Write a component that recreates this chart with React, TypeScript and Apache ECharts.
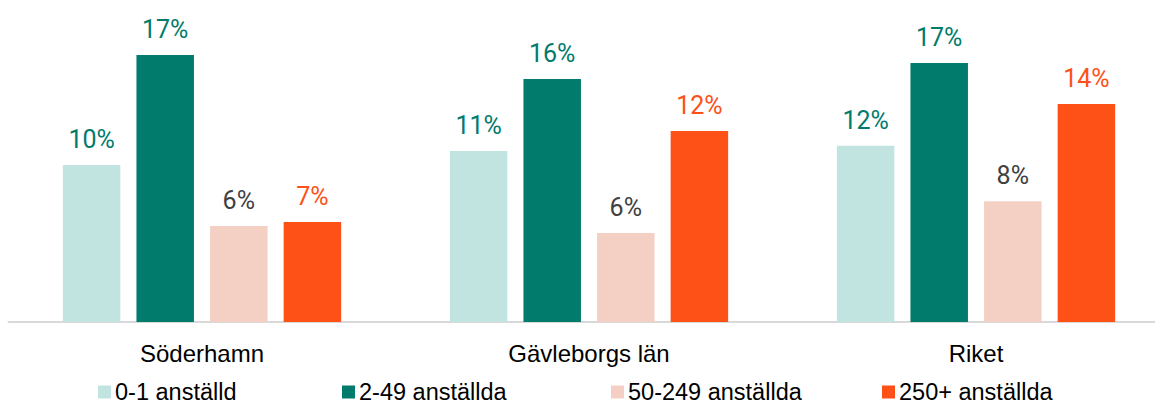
import React, { useEffect, useRef } from "react";
import * as echarts from "echarts";

const categories = ["Söderhamn", "Gävleborgs län", "Riket"];
const seriesNames = ["0-1 anställd", "2-49 anställda", "50-249 anställda", "250+ anställda"];
const v01 = [10.26, 11.18, 11.52];
const v249 = [17.45, 15.88, 16.93];
const v50249 = [6.27, 5.82, 7.9];
const v250 = [6.54, 12.48, 14.25];
const allValues = [v01, v249, v50249, v250];
const legendLefts = [98, 342, 611, 882];

const barColors = ["#c2e4e0", "#007b6c", "#f4d0c4", "#fd5117"];
const labelColors = ["#007b6c", "#007b6c", "#404040", "#fd5117"];

export default function App() {
  const ref = useRef<HTMLDivElement>(null);
  useEffect(() => {
    if (!ref.current) return;
    const chart = echarts.init(ref.current, null, { renderer: "svg" });
    chart.setOption({
      animation: false,
      backgroundColor: "#ffffff",
      grid: { left: 8.5, right: 0.5, top: 16, bottom: 81, containLabel: false, outerBoundsMode: "none" },
      xAxis: {
        type: "category",
        data: categories,
        axisLine: { lineStyle: { color: "#d9d9d9", width: 2 } },
        axisTick: { show: false },
        axisLabel: {
          color: "#000000",
          fontFamily: "Liberation Sans",
          fontSize: 24,
          margin: 19,
        },
      },
      yAxis: {
        type: "value",
        min: 0,
        max: 20,
        show: false,
        splitLine: { show: false },
      },
      legend: seriesNames.map((name, i) => ({
        left: legendLefts[i],
        top: 380,
        padding: 0,
        itemWidth: 13,
        itemHeight: 13,
        icon: "rect",
        textStyle: {
          color: "#000000",
          fontFamily: "Liberation Sans",
          fontSize: 23.5,
          lineHeight: 19,
          padding: [0, 0, 0, -1],
        },
        data: [name],
      })),
      series: seriesNames.map((name, i) => ({
        name,
        type: "bar",
        data: allValues[i],
        barWidth: 57.5,
        barGap: "28%",
        itemStyle: { color: barColors[i] },
        label: {
          show: true,
          position: "top",
          distance: 13,
          color: labelColors[i],
          fontFamily: "Roboto",
          fontSize: 25,
          formatter: (p: any) => Math.round(p.value) + "%",
        },
      })),
    });
    return () => chart.dispose();
  }, []);
  return (
    <div style={{ position: "fixed", left: 0, top: 0, width: 1155, height: 403, overflow: "hidden", background: "#fff" }}>
      <div ref={ref} style={{ width: 1170, height: 403 }} />
    </div>
  );
}
